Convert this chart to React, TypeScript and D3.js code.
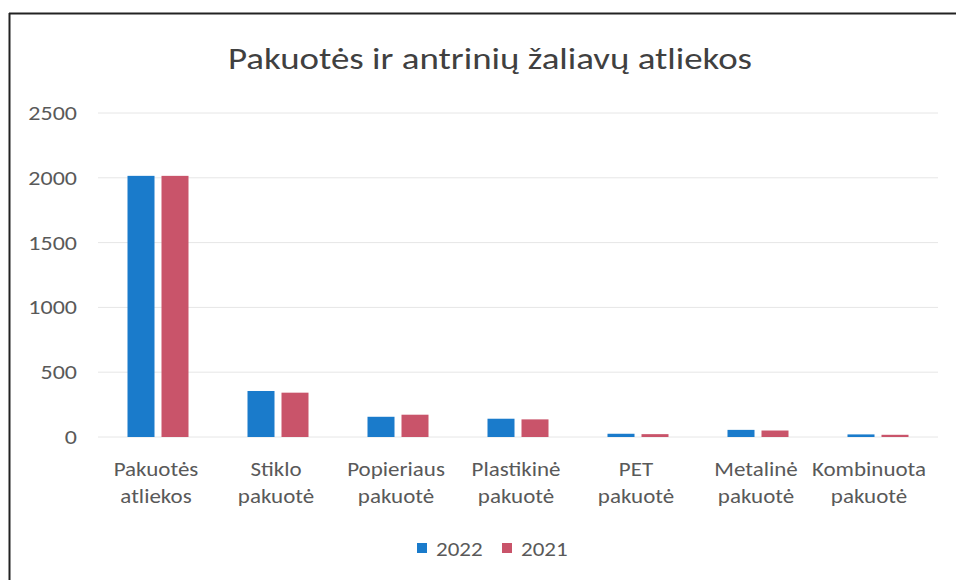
import React from "react";
import * as d3 from "d3";

const categories: string[][] = [
  ["Pakuotės", "atliekos"],
  ["Stiklo", "pakuotė"],
  ["Popieriaus", "pakuotė"],
  ["Plastikinė", "pakuotė"],
  ["PET", "pakuotė"],
  ["Metalinė", "pakuotė"],
  ["Kombinuota", "pakuotė"],
];
const series2022: number[] = [2015, 355, 156, 141, 25, 55, 20];
const series2021: number[] = [2015, 342, 172, 136, 22, 50, 17];
const seriesNames: string[] = ["2022", "2021"];
const yTicks: number[] = [0, 500, 1000, 1500, 2000, 2500];
const title = "Pakuotės ir antrinių žaliavų atliekos";

const W = 956;
const H = 580;
const FONT = "Carlito, Calibri, Lato, 'Open Sans', sans-serif";
const TEXT = "#595959";
const COLORS = ["#1a7bcb", "#c9546a"];

function T(props: {
  x: number;
  y: number;
  sx?: number;
  size: number;
  anchor?: string;
  fill?: string;
  children: React.ReactNode;
}) {
  const sx = props.sx ?? 1.2;
  return (
    <text
      transform={`translate(${props.x},${props.y}) scale(${sx},1)`}
      textAnchor={props.anchor ?? "start"}
      fontSize={props.size}
      fill={props.fill ?? TEXT}
    >
      {props.children}
    </text>
  );
}

export default function App() {
  const keys = categories.map((c) => c.join(" "));
  const x = d3.scaleBand<string>().domain(keys).range([98, 938]).padding(0);
  const y = d3.scaleLinear().domain([0, 2500]).range([437, 113]);
  const barW = 27;
  const gap = 7;
  const all = [series2022, series2021];

  return (
    <svg
      width={W}
      height={H}
      style={{ position: "absolute", left: 0, top: 0, background: "#fff" }}
      fontFamily={FONT}
    >
      <rect x={0} y={0} width={W} height={H} fill="#fff" />
      <line x1={9} x2={956} y1={13.5} y2={13.5} stroke="#222" strokeWidth={2} />
      <line x1={9.5} x2={9.5} y1={13} y2={580} stroke="#222" strokeWidth={2} />

      <T x={490} y={69} sx={1.23} size={30} anchor="middle" fill="#404040">
        {title}
      </T>

      {yTicks.map((t) => (
        <g key={t}>
          <line x1={98} x2={938} y1={y(t)} y2={y(t)} stroke="#e6e6e6" strokeWidth={1} />
          <T x={77} y={y(t) + 7} size={20} anchor="end">
            {t}
          </T>
        </g>
      ))}

      {keys.map((k, i) => {
        const cx = (x(k) as number) + x.bandwidth() / 2;
        const lx = i === keys.length - 1 ? cx - 9 : cx - 2;
        return (
          <g key={k}>
            {all.map((s, j) => {
              const bx = j === 0 ? cx - gap / 2 - barW : cx + gap / 2;
              return (
                <rect
                  key={j}
                  x={bx}
                  y={y(s[i])}
                  width={barW}
                  height={y(0) - y(s[i])}
                  fill={COLORS[j]}
                />
              );
            })}
            {categories[i].map((line, li) => (
              <T key={li} x={lx} y={476 + li * 27} sx={1.15} size={20} anchor="middle">
                {line}
              </T>
            ))}
          </g>
        );
      })}

      {seriesNames.map((n, j) => (
        <g key={n}>
          <rect x={417 + j * 85} y={543} width={10} height={10} fill={COLORS[j]} />
          <T x={436 + j * 85} y={556} sx={1.15} size={20}>
            {n}
          </T>
        </g>
      ))}
    </svg>
  );
}
